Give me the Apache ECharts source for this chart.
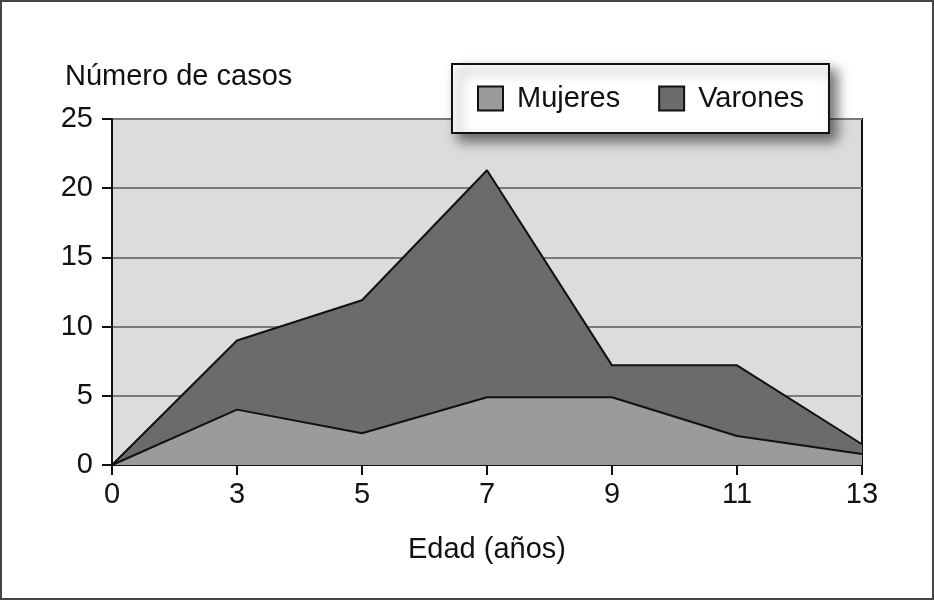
<!DOCTYPE html>
<html>
<head>
<meta charset="utf-8">
<script src="https://cdn.jsdelivr.net/npm/echarts@6/dist/echarts.min.js"></script>
<style>
html,body{margin:0;padding:0;background:#fff;}
#c{width:934px;height:600px;}
</style>
</head>
<body>
<div id="c"></div>
<script>
const categories = ['0', '3', '5', '7', '9', '11', '13'];
const mujeres = [0, 4, 2.3, 4.9, 4.9, 2.1, 0.8];
const varones = [0, 5, 9.6, 16.4, 2.3, 5.1, 0.7];
const seriesNames = ['Mujeres', 'Varones'];
const yTitle = 'Número de casos';
const xTitle = 'Edad (años)';

const FONT = '"Liberation Sans", Arial, Helvetica, sans-serif';
const FS = 29;
const chart = echarts.init(document.getElementById('c'), null, {renderer: 'canvas'});
chart.setOption({
  animation: false,
  backgroundColor: '#fff',
  textStyle: {fontFamily: FONT},
  grid: {
    left: 112, right: 72, top: 119, bottom: 135,
    show: true, backgroundColor: '#dcdcdc', borderColor: '#111', borderWidth: 2
  },
  legend: {
    data: [
      {name: seriesNames[0], icon: 'rect', itemStyle: {color: '#9b9b9b', borderColor: '#111', borderWidth: 2}},
      {name: seriesNames[1], icon: 'rect', itemStyle: {color: '#6b6b6b', borderColor: '#111', borderWidth: 2}}
    ],
    left: 452, top: 64,
    padding: [20, 25, 20, 25],
    itemWidth: 25, itemHeight: 24, itemGap: 38,
    backgroundColor: '#fff', borderColor: '#111', borderWidth: 2,
    shadowBlur: 12, shadowColor: 'rgba(0,0,0,0.55)', shadowOffsetX: 7, shadowOffsetY: 7,
    textStyle: {fontSize: FS, color: '#111', fontFamily: FONT, padding: [0, 0, 0, 9]},
    selectedMode: false
  },
  xAxis: {
    type: 'category', data: categories, boundaryGap: false,
    name: xTitle, nameLocation: 'middle', nameGap: 70,
    nameTextStyle: {fontSize: FS, color: '#111', fontFamily: FONT},
    axisLine: {lineStyle: {color: '#111', width: 2}},
    axisTick: {show: true, length: 10, lineStyle: {color: '#111', width: 2}},
    axisLabel: {fontSize: FS, color: '#111', margin: 15, fontFamily: FONT},
    splitLine: {show: false}
  },
  yAxis: {
    type: 'value', min: 0, max: 25, interval: 5,
    axisLine: {show: true, lineStyle: {color: '#111', width: 2}},
    axisTick: {show: true, length: 10, lineStyle: {color: '#111', width: 2}},
    axisLabel: {fontSize: FS, color: '#111', margin: 19, fontFamily: FONT},
    splitLine: {show: true, lineStyle: {color: '#7a7a7a', width: 2}}
  },
  graphic: [
    {type: 'text', left: 65, top: 62, style: {text: yTitle, fontSize: FS, fill: '#111', fontFamily: FONT}},
    {type: 'rect', shape: {x: 1, y: 1, width: 932, height: 598}, style: {fill: 'none', stroke: '#444', lineWidth: 2}, z: 100}
  ],
  series: [
    {
      name: seriesNames[0], type: 'line', stack: 'total', data: mujeres, z: 3,
      showSymbol: false, symbol: 'none',
      lineStyle: {color: '#111', width: 2},
      itemStyle: {color: '#9b9b9b'},
      areaStyle: {color: '#9b9b9b', opacity: 1}
    },
    {
      name: seriesNames[1], type: 'line', stack: 'total', data: varones, z: 2,
      showSymbol: false, symbol: 'none',
      lineStyle: {color: '#111', width: 2},
      itemStyle: {color: '#6b6b6b'},
      areaStyle: {color: '#6b6b6b', opacity: 1}
    }
  ]
});
</script>
</body>
</html>
